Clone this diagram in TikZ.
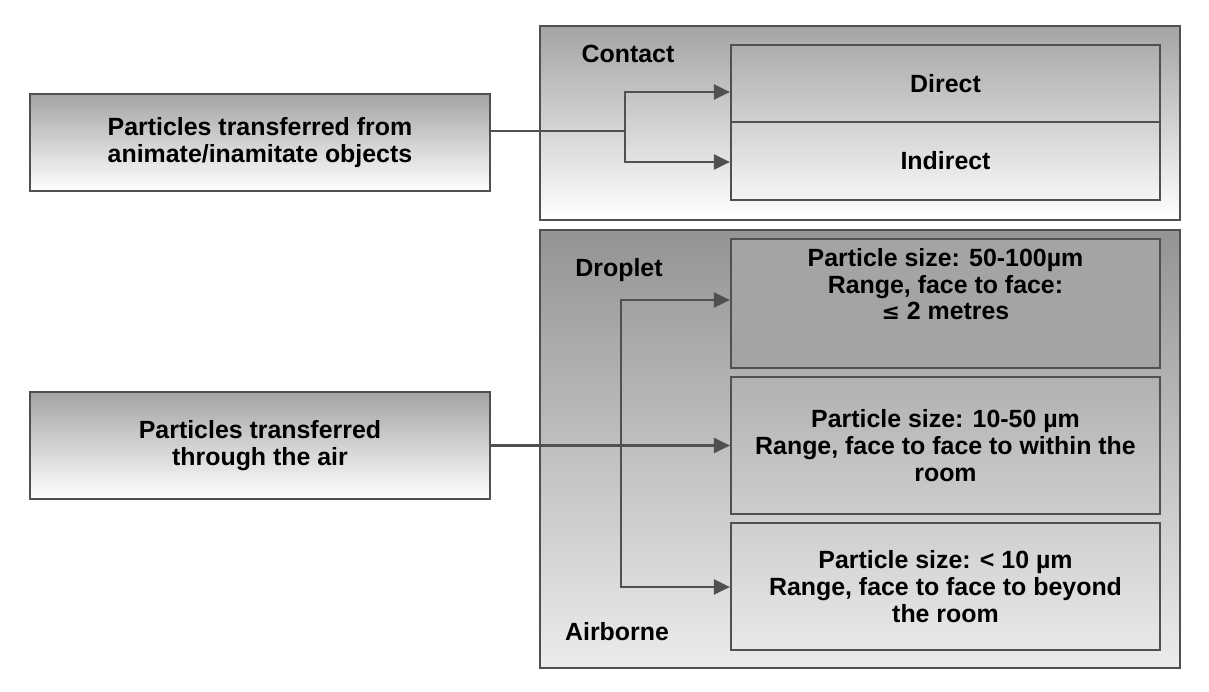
\documentclass[tikz,border=0pt]{standalone}
\usepackage{fontspec}
\setmainfont{Liberation Sans}
\usetikzlibrary{arrows.meta}
\definecolor{ln}{HTML}{505050}
\definecolor{gtop}{HTML}{A4A4A4}
\begin{document}
\begin{tikzpicture}[x=1bp,y=-1bp,
  grad/.style={draw=ln,line width=2.2bp,top color=gtop,bottom color=white},
  inner/.style={draw=ln,line width=2.2bp,align=center,font=\fontsize{25}{27}\selectfont\bfseries},
  lbl/.style={font=\fontsize{25}{27}\selectfont\bfseries},
  conn/.style={draw=ln,line width=2.5bp},
  arr/.style={conn,-{Triangle[length=16bp,width=15bp]}}]
\useasboundingbox (0,0) rectangle (1209,692);
% outer panels
\draw[grad] (540,26) rectangle (1180,220);
\draw[grad,top color=gtop!90!black,bottom color=gray!15] (540,230) rectangle (1180,668);
% left boxes
\node[grad,inner,minimum width=460bp,minimum height=97bp] (p1) at (260,142.5) {Particles transferred from\\animate/inamitate objects};
\node[grad,inner,minimum width=460bp,minimum height=107bp] (p2) at (260,445.5) {Particles transferred\\through the air};
% contact boxes
\node[inner,minimum width=429bp,minimum height=77bp] (d) at (945.5,83.5) {Direct};
\node[inner,minimum width=429bp,minimum height=78bp] (i) at (945.5,161) {Indirect};
% airborne boxes
\node[inner,fill=gtop,minimum width=429bp,minimum height=129bp] (b1) at (945.5,303.5) {Particle size: 50-100µm\\Range, face to face:\\{\fontspec{DejaVu Sans}\bfseries\fontsize{22}{27}\selectfont ≤} 2 metres\\[12bp]};
\node[inner,minimum width=429bp,minimum height=137bp] (b2) at (945.5,445.5) {Particle size: 10-50 µm\\Range, face to face to within the\\room};
\node[inner,minimum width=429bp,minimum height=127bp] (b3) at (945.5,586.5) {Particle size: < 10 µm\\Range, face to face to beyond\\the room};
\node[lbl] (lc) at (628,54) {Contact};
\node[lbl] (ld) at (619,270) {Droplet};
\node[lbl] (la) at (617,632) {Airborne};
% connectors
\coordinate (j1) at (625,131);
\draw[conn] (p1.east|-j1) -- (j1);
\draw[arr] (625,131) |- (d.west|-0,92);
\draw[arr] (625,131) |- (i.west|-0,162);
\draw[arr] (p2.east) -- (b2.west|-p2.east);
\draw[arr] (621,445) |- (b1.west|-0,300);
\draw[arr] (621,445) |- (b3.west|-0,587);
\end{tikzpicture}
\end{document}
